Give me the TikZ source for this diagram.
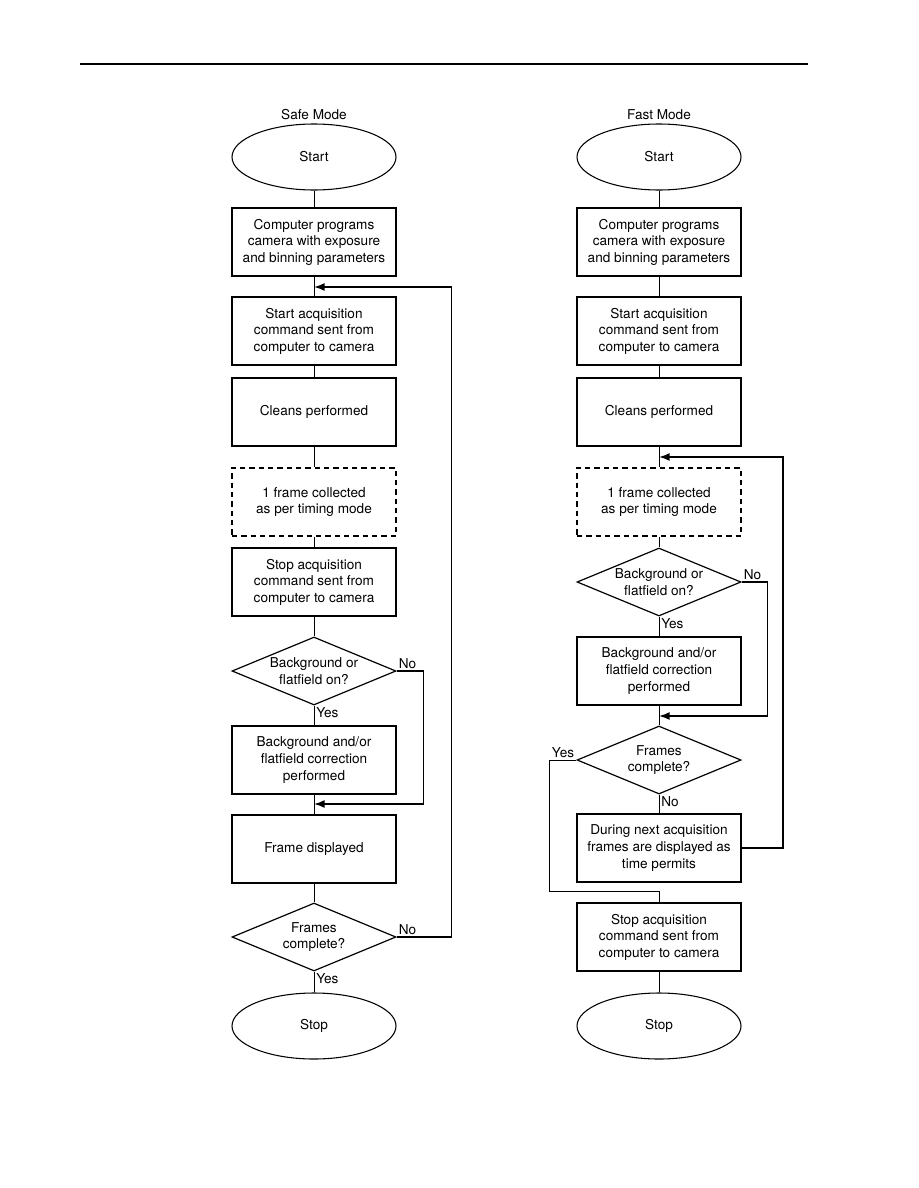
\documentclass[tikz,border=0pt]{standalone}
\usepackage{fontspec}
\setmainfont{TeX Gyre Heros}
\usetikzlibrary{shapes.geometric, arrows.meta}

\begin{document}
\begin{tikzpicture}[x=0.75pt, y=-0.75pt,
				>={Latex[length=8pt,width=6pt]},   %Pfeilspitzen
				font=\fontsize{10.2}{12.4}\selectfont,
				kasten/.style={draw, line width=1.1pt, minimum width=123pt, minimum height=51pt, inner sep=0pt, align=center},
				gestrichelt/.style={kasten, line width=0.8pt, dash pattern=on 4pt off 3pt},
				oval/.style={draw, ellipse, line width=0.8pt, minimum width=123pt, minimum height=49.5pt, inner sep=0pt},
				raute/.style={draw, diamond, line width=0.9pt, aspect=2.41, minimum width=123pt, minimum height=51pt, inner sep=0pt, align=center},
				linie/.style={line width=0.7pt},
				rueck/.style={line width=1.2pt, ->},
				lbl/.style={inner sep=1.5pt}]
				\useasboundingbox (0,0) rectangle (918,1188);
				%Kopflinie
				\draw[line width=2.2pt] (80,64) -- (808,64);
				% Safe Mode
				\node (st) at (314,115) {Safe Mode};
				\node[oval] (s0) at (314,157) {Start};
				\node[kasten] (s1) at (314,242) {Computer programs\\camera with exposure\\and binning parameters};
				\node[kasten] (s2) at (314,331) {Start acquisition\\command sent from\\computer to camera};
				\node[kasten] (s3) at (314,412) {Cleans performed};
				\node[gestrichelt] (s4) at (314,502) {1 frame collected\\as per timing mode};
				\node[kasten] (s5) at (314,582) {Stop acquisition\\command sent from\\computer to camera};
				\node[raute] (s6) at (314,671) {Background or\\flatfield on?};
				\node[kasten] (s7) at (314,760) {Background and/or\\flatfield correction\\performed};
				\node[kasten] (s8) at (314,849) {Frame displayed};
				\node[raute] (s9) at (314,937) {Frames\\complete?};
				\node[oval] (s10) at (314,1026) {Stop};
				\coordinate (sl) at (314,287);
				\coordinate (sm) at (314,804);
				% Fast Mode
				\node (ft) at (659,115) {Fast Mode};
				\node[oval] (f0) at (659,157) {Start};
				\node[kasten] (f1) at (659,242) {Computer programs\\camera with exposure\\and binning parameters};
				\node[kasten] (f2) at (659,331) {Start acquisition\\command sent from\\computer to camera};
				\node[kasten] (f3) at (659,412) {Cleans performed};
				\node[gestrichelt] (f4) at (659,502) {1 frame collected\\as per timing mode};
				\node[raute] (f5) at (659,582) {Background or\\flatfield on?};
				\node[kasten] (f6) at (659,671) {Background and/or\\flatfield correction\\performed};
				\node[raute] (f7) at (659,760) {Frames\\complete?};
				\node[kasten] (f8) at (659,848) {During next acquisition\\frames are displayed as\\time permits};
				\node[kasten] (f9) at (659,937) {Stop acquisition\\command sent from\\computer to camera};
				\node[oval] (f10) at (659,1026) {Stop};
				\coordinate (fl) at (659,457);
				\coordinate (fm) at (659,716);
				\coordinate (fy) at (659,891);
				% Verbindungen
				\foreach \a/\b in {s0/s1,s1/s2,s2/s3,s3/s4,s4/s5,s5/s6,s6/s7,s7/s8,s8/s9,s9/s10,
					f0/f1,f1/f2,f2/f3,f3/f4,f4/f5,f5/f6,f6/f7,f7/f8,f9/f10}
					\draw[linie] (\a) -- (\b);
				\draw[linie] (f7.west) -- ++(-27,0) |- (fy) -- (f9);
				% Rueckfuehrungen
				\draw[rueck] (s6.east) -- ++(27,0) |- (sm);
				\draw[rueck] (s9.east) -- ++(55,0) |- (sl);
				\draw[rueck] (f5.east) -- ++(26,0) |- (fm);
				\draw[rueck] (f8.east) -- ++(41,0) |- (fl);
				% Beschriftung
				\node[lbl, above right] (n1) at (s6.east) {No};
				\node[lbl, below right] (y1) at (s6.south) {Yes};
				\node[lbl, above right] (n2) at (s9.east) {No};
				\node[lbl, below right] (y2) at (s9.south) {Yes};
				\node[lbl, above right] (n3) at (f5.east) {No};
				\node[lbl, below right] (y3) at (f5.south) {Yes};
				\node[lbl, above left] (y4) at (f7.west) {Yes};
				\node[lbl, below right] (n4) at (f7.south) {No};
			\end{tikzpicture}
\end{document}
